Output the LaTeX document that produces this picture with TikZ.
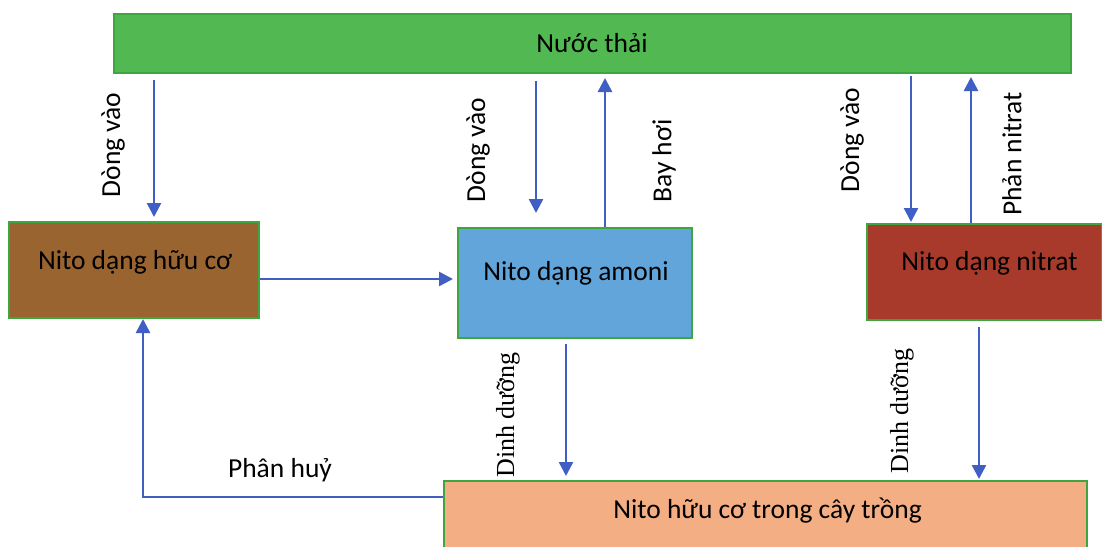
\documentclass[tikz,border=0pt]{standalone}
\usepackage{fontspec}
\setmainfont{Carlito}
\newfontfamily\serifl{Liberation Serif}
\usetikzlibrary{arrows.meta}
\definecolor{bargreen}{HTML}{52B952}
\definecolor{edgegreen}{HTML}{3FA63F}
\definecolor{brownbox}{HTML}{9A6431}
\definecolor{bluebox}{HTML}{62A5DA}
\definecolor{redbox}{HTML}{A83A2B}
\definecolor{salmonbox}{HTML}{F4AE84}
\definecolor{arrowblue}{HTML}{3F5FC4}
\tikzset{
  txt/.style={font=\fontsize{27.5}{32}\selectfont},
  box/.style={draw=edgegreen, line width=2pt, inner sep=0pt},
  arr/.style={draw=arrowblue, line width=2.5pt, -{Triangle[length=14pt,width=14pt]}},
  lbl/.style={rotate=90, txt, inner sep=0pt},
  slbl/.style={rotate=90, font=\serifl\fontsize{26}{30}\selectfont, inner sep=0pt},
}
\begin{document}
\begin{tikzpicture}[x=1pt,y=-1pt]
\useasboundingbox (0,0) rectangle (1102,546);
\fill[white] (0,0) rectangle (1102,546);
% boxes
\node[box, fill=bargreen, minimum width=957pt, minimum height=59pt] (bar) at (592.5,43.5) {};
\node[txt] (bartxt) at (592,43) {Nước thải};
\node[box, fill=brownbox, minimum width=250pt, minimum height=96pt,
  label={[txt, yshift=8pt, xshift=1pt]center:Nito dạng hữu cơ}] (hc) at (134,270) {};
\node[box, fill=bluebox, minimum width=234pt, minimum height=110pt,
  label={[txt, yshift=10pt, xshift=1pt]center:Nito dạng amoni}] (am) at (575,283) {};
\node[box, fill=redbox, minimum width=235pt, minimum height=96pt,
  label={[txt, yshift=9pt, xshift=5pt]center:Nito dạng nitrat}] (ni) at (984.5,272) {};
\node[box, fill=salmonbox, minimum width=643pt, minimum height=68pt,
  label={[txt, yshift=4pt, xshift=2pt]center:Nito hữu cơ trong cây trồng}] (cr) at (765.5,515) {};
% connectors
\draw[arr, shorten <=6pt, shorten >=4pt] (154,0 |- bar.south) -- (154,0 |- hc.north);
\draw[arr, shorten <=7pt, shorten >=14pt] (536,0 |- bar.south) -- (536,0 |- am.north);
\draw[arr, shorten >=4pt] (605,0 |- am.north) -- (605,0 |- bar.south);
\draw[arr, shorten <=2pt, shorten >=1pt] (911,0 |- bar.south) -- (911,0 |- ni.north);
\draw[arr, shorten >=3pt] (971,0 |- ni.north) -- (971,0 |- bar.south);
\draw[arr, shorten >=4pt] (hc.east |- 0,279) -- (am.west |- 0,279);
\draw[arr, shorten <=5pt, shorten >=4pt] (566,0 |- am.south) -- (566,0 |- cr.north);
\draw[arr, shorten <=6pt, shorten >=1pt] (979,0 |- ni.south) -- (979,0 |- cr.north);
\draw[arr] (cr.west |- 0,497) -- (143,497) -- (143,0 |- hc.south);
% labels
\node[lbl] (l1) at (113,145) {Dòng vào};
\node[lbl] (l2) at (478,150) {Dòng vào};
\node[lbl] (l3) at (664,161) {Bay hơi};
\node[lbl] (l4) at (852,140) {Dòng vào};
\node[lbl] (l5) at (1012,154) {Phản nitrat};
\node[slbl] (l6) at (508,415) {Dinh dưỡng};
\node[slbl] (l7) at (902,411) {Dinh dưỡng};
\node[txt, inner sep=0pt] (l8) at (280,470) {Phân huỷ};
\end{tikzpicture}
\end{document}
